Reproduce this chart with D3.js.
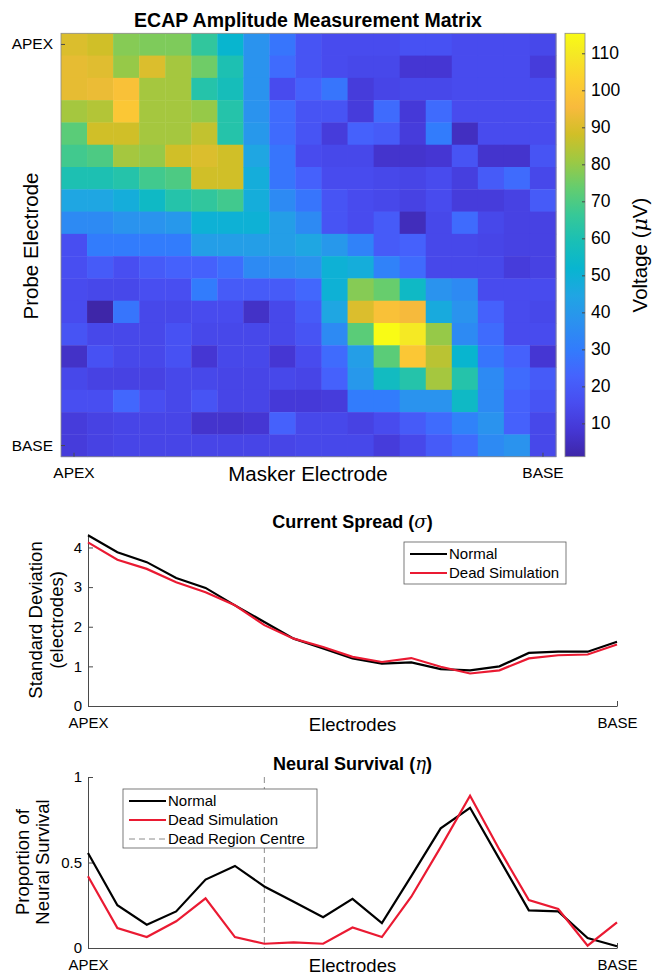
<!DOCTYPE html>
<html lang="en">
<head>
<meta charset="UTF-8">
<title>ECAP Amplitude Measurement Matrix</title>
<style>
  body { margin: 0; background: #fff; }
  svg text { font-family: "Liberation Sans", Arial, Helvetica, sans-serif; }
</style>
</head>
<body>
<script src="https://d3js.org/d3.v7.min.js"></script>
<script>
// electrodes, apex (1) to base (19)
var electrodes = [1, 2, 3, 4, 5, 6, 7, 8, 9, 10, 11, 12, 13, 14, 15, 16, 17, 18, 19];
var endLabels = {1: "APEX", 19: "BASE"};

// ECAP amplitude (uV), rows = probe electrode, columns = masker electrode
var ecap = [
  [90, 88, 78, 77, 77, 65, 52, 38, 28, 18, 15, 15, 15, 17, 17, 15, 15, 15, 14],
  [92, 91, 80, 90, 82, 75, 60, 38, 25, 18, 15, 14, 14, 8, 8, 15, 15, 15, 10],
  [92, 93, 98, 82, 82, 62, 58, 38, 15, 22, 28, 10, 13, 14, 14, 15, 15, 15, 15],
  [82, 84, 100, 82, 82, 80, 62, 38, 25, 18, 18, 10, 25, 9, 25, 15, 15, 15, 15],
  [72, 88, 88, 82, 82, 86, 62, 40, 25, 18, 10, 22, 20, 10, 30, 5, 15, 15, 15],
  [68, 70, 82, 80, 88, 90, 88, 45, 28, 15, 14, 14, 7, 7, 8, 18, 7, 7, 18],
  [60, 60, 62, 68, 70, 88, 88, 48, 28, 22, 15, 15, 14, 13, 15, 11, 20, 25, 14],
  [45, 45, 48, 55, 62, 65, 68, 48, 35, 28, 18, 15, 14, 12, 15, 10, 10, 12, 20],
  [35, 35, 38, 38, 40, 50, 50, 50, 42, 35, 18, 15, 20, 4, 14, 25, 14, 12, 12],
  [16, 30, 30, 30, 30, 42, 42, 42, 42, 45, 40, 32, 20, 22, 14, 14, 13, 12, 12],
  [16, 20, 16, 20, 22, 22, 26, 35, 36, 38, 50, 48, 32, 25, 14, 14, 14, 10, 12],
  [15, 14, 14, 16, 16, 30, 20, 20, 20, 24, 50, 78, 74, 55, 38, 35, 15, 15, 15],
  [15, 1, 28, 14, 14, 15, 15, 6, 14, 20, 45, 90, 98, 95, 47, 38, 22, 15, 14],
  [18, 14, 14, 14, 17, 14, 14, 14, 14, 18, 35, 72, 115.4, 110, 80, 35, 25, 15, 15],
  [6, 17, 14, 14, 17, 8, 14, 14, 8, 15, 25, 42, 72, 100, 85, 52, 28, 22, 8],
  [14, 12, 12, 12, 14, 14, 13, 13, 14, 13, 22, 40, 56, 62, 82, 62, 35, 25, 20],
  [16, 16, 24, 16, 14, 18, 13, 13, 9, 9, 10, 30, 30, 38, 38, 55, 35, 22, 18],
  [10, 12, 13, 13, 13, 7, 7, 8, 22, 14, 14, 12, 15, 20, 25, 32, 38, 22, 14],
  [10, 12, 13, 13, 13, 13, 13, 13, 13, 14, 14, 14, 10, 14, 20, 25, 35, 38, 14]
];
var voltageTicks = [10, 20, 30, 40, 50, 60, 70, 80, 90, 100, 110];

// current spread (sigma, electrodes)
var spreadNormal = [4.31, 3.88, 3.63, 3.23, 2.98, 2.54, 2.12, 1.70, 1.45, 1.20, 1.07, 1.10, 0.93, 0.90, 1.00, 1.34, 1.37, 1.37, 1.62];
var spreadDead   = [4.13, 3.69, 3.46, 3.12, 2.87, 2.54, 2.04, 1.70, 1.49, 1.24, 1.11, 1.21, 0.99, 0.82, 0.90, 1.20, 1.28, 1.30, 1.55];
var spreadTicks = [0, 1, 2, 3, 4];

// neural survival (eta)
var survivalNormal = [0.556, 0.25, 0.136, 0.214, 0.40, 0.48, 0.36, 0.27, 0.18, 0.287, 0.146, 0.42, 0.70, 0.82, 0.52, 0.22, 0.214, 0.058, 0.01];
var survivalDead   = [0.42, 0.117, 0.064, 0.156, 0.29, 0.064, 0.025, 0.033, 0.025, 0.12, 0.064, 0.30, 0.59, 0.89, 0.575, 0.28, 0.228, 0.014, 0.15];
var survivalTicks = [0, 0.5, 1];
var deadCentre = 7;

// parula colour map (every 4th entry of the 64 colour table)
var parulaPos = [0, 4, 8, 12, 16, 20, 24, 28, 32, 36, 40, 44, 48, 52, 56, 60, 63];
var parulaRgb = ["rgb(62,38,168)", "rgb(69,55,213)", "rgb(72,77,240)", "rgb(69,99,253)", "rgb(50,124,252)",
  "rgb(43,145,239)", "rgb(32,165,227)", "rgb(8,181,208)", "rgb(25,191,182)", "rgb(55,200,151)",
  "rgb(100,205,111)", "rgb(157,201,67)", "rgb(209,191,39)", "rgb(248,186,61)", "rgb(252,207,48)",
  "rgb(245,233,36)", "rgb(249,251,21)"];

const W = 652, H = 975;
const axisCol = "#4a4a4a";
const red = "#ea1a32";

const svg = d3.select("body").append("svg")
  .attr("width", W).attr("height", H);

// ---------- heatmap ----------
var flat = [].concat.apply([], ecap);
var vExtent = d3.extent(flat);
var parula = d3.scaleLinear()
  .domain(parulaPos.map(function(p) { return vExtent[0] + p / 63 * (vExtent[1] - vExtent[0]); }))
  .range(parulaRgb)
  .interpolate(d3.interpolateRgb);

var hx = d3.scaleBand().domain(electrodes).range([61, 556]);
var hy = d3.scaleBand().domain(electrodes).range([33.3, 456.7]);

var cells = [];
ecap.forEach(function(row, r) {
  row.forEach(function(v, c) { cells.push({probe: electrodes[r], masker: electrodes[c], v: v}); });
});

svg.append("g").selectAll("rect")
  .data(cells)
  .enter().append("rect")
  .attr("x", function(d) { return hx(d.masker); })
  .attr("y", function(d) { return hy(d.probe); })
  .attr("width", hx.bandwidth() + 0.4)
  .attr("height", hy.bandwidth() + 0.4)
  .attr("fill", function(d) { return parula(d.v); });

svg.append("rect")
  .attr("x", 61).attr("y", 33.3).attr("width", 495).attr("height", 423.4)
  .attr("fill", "none").attr("stroke", "#8a8a8a").attr("stroke-width", 0.8);

function styleAxis(g, size) {
  g.attr("font-family", null).attr("font-size", size);
  g.selectAll("path, line").attr("stroke", axisCol);
  g.selectAll("text").attr("fill", "#000");
}

svg.append("g")
  .attr("transform", "translate(61,0)")
  .call(d3.axisLeft(hy).tickValues([1, 19]).tickFormat(function(d) { return endLabels[d]; })
    .tickSizeInner(-4).tickSizeOuter(0).tickPadding(8))
  .call(styleAxis, 15.5)
  .select(".domain").remove();

svg.append("g")
  .attr("transform", "translate(0,456.7)")
  .call(d3.axisBottom(hx).tickValues([1, 19]).tickFormat(function(d) { return endLabels[d]; })
    .tickSizeInner(-4).tickSizeOuter(0).tickPadding(10.5))
  .call(styleAxis, 15.5)
  .select(".domain").remove();

svg.append("text")
  .attr("x", 308).attr("y", 27)
  .attr("text-anchor", "middle").attr("font-size", 19.5).attr("font-weight", "bold")
  .text("ECAP Amplitude Measurement Matrix");

svg.append("text")
  .attr("x", 308).attr("y", 481)
  .attr("text-anchor", "middle").attr("font-size", 20.5)
  .text("Masker Electrode");

svg.append("text")
  .attr("transform", "translate(38,246) rotate(-90)")
  .attr("text-anchor", "middle").attr("font-size", 20.5)
  .text("Probe Electrode");

// ---------- colorbar ----------
var cb = d3.scaleLinear().domain(vExtent).range([456.7, 33.3]);
var grad = svg.append("defs").append("linearGradient")
  .attr("id", "parula").attr("x1", 0).attr("y1", 1).attr("x2", 0).attr("y2", 0);
grad.selectAll("stop")
  .data(parulaPos)
  .enter().append("stop")
  .attr("offset", function(p) { return p / 63; })
  .attr("stop-color", function(p, i) { return parulaRgb[i]; });

svg.append("rect")
  .attr("x", 565).attr("y", 33.3).attr("width", 20).attr("height", 423.4)
  .attr("fill", "url(#parula)").attr("stroke", "#8a8a8a").attr("stroke-width", 0.8);

svg.append("g")
  .attr("transform", "translate(585,0)")
  .call(d3.axisRight(cb).tickValues(voltageTicks).tickSizeInner(-3).tickSizeOuter(0).tickPadding(6))
  .call(styleAxis, 17.5)
  .select(".domain").remove();

var vl = svg.append("text")
  .attr("transform", "translate(647,255) rotate(-90)")
  .attr("text-anchor", "middle").attr("font-size", 20.5);
vl.append("tspan").text("Voltage (");
vl.append("tspan").attr("font-style", "italic").attr("font-family", "DejaVu Serif, serif").text("\u03bc");
vl.append("tspan").text("V)");

// ---------- line charts ----------
var lx = d3.scaleLinear().domain([1, 19]).range([88, 617]);

function lineChart(opt) {
  var y = d3.scaleLinear().domain(opt.ydom).range(opt.yrange);
  var g = svg.append("g");

  g.append("g")
    .attr("transform", "translate(88,0)")
    .call(d3.axisLeft(y).tickValues(opt.ticks).tickFormat(d3.format("~g"))
      .tickSizeInner(-5).tickSizeOuter(0).tickPadding(6))
    .call(styleAxis, 15);

  g.append("g")
    .attr("transform", "translate(0," + opt.yrange[0] + ")")
    .call(d3.axisBottom(lx).tickValues([1, 19]).tickFormat(function(d) { return endLabels[d]; })
      .tickSizeInner(-5).tickSizeOuter(0).tickPadding(11.3))
    .call(styleAxis, 15);

  if (opt.centre) {
    g.append("line")
      .attr("x1", lx(opt.centre)).attr("x2", lx(opt.centre))
      .attr("y1", y(opt.ydom[1])).attr("y2", y(0))
      .attr("stroke", "#8c8c8c").attr("stroke-width", 1).attr("stroke-dasharray", "6,4");
  }

  var line = d3.line()
    .x(function(d, i) { return lx(electrodes[i]); })
    .y(function(d) { return y(d); });

  g.append("path").datum(opt.normal)
    .attr("d", line).attr("fill", "none").attr("stroke", "#000").attr("stroke-width", 2.2);
  g.append("path").datum(opt.dead)
    .attr("d", line).attr("fill", "none").attr("stroke", red).attr("stroke-width", 2.2);

  var t = g.append("text")
    .attr("x", 352.5).attr("y", opt.titleY)
    .attr("text-anchor", "middle").attr("font-size", 18).attr("font-weight", "bold");
  t.append("tspan").text(opt.title + " (");
  t.append("tspan").attr("font-style", "italic").attr("font-weight", "normal")
    .attr("font-family", "DejaVu Serif, serif").text(opt.symbol);
  t.append("tspan").text(")");

  g.append("text")
    .attr("x", 352.5).attr("y", opt.xlabelY)
    .attr("text-anchor", "middle").attr("font-size", 18.5)
    .text("Electrodes");

  opt.ylabel.forEach(function(s, i) {
    g.append("text")
      .attr("transform", "translate(" + opt.ylabelX[i] + "," + opt.ylabelMid + ") rotate(-90)")
      .attr("text-anchor", "middle").attr("font-size", 18.5)
      .text(s);
  });

  // legend
  var lg = g.append("g").attr("transform", "translate(" + opt.legend[0] + "," + opt.legend[1] + ")");
  lg.append("rect")
    .attr("width", opt.legend[2]).attr("height", opt.legend[3])
    .attr("fill", "#fff").attr("stroke", "#5a5a5a").attr("stroke-width", 0.8);
  opt.items.forEach(function(it, i) {
    var yy = 12 + i * 19;
    lg.append("line")
      .attr("x1", 6).attr("x2", 43).attr("y1", yy).attr("y2", yy)
      .attr("stroke", it.color).attr("stroke-width", it.dash ? 1 : 2.2)
      .attr("stroke-dasharray", it.dash ? "6,4" : null);
    lg.append("text")
      .attr("x", 45).attr("y", yy).attr("dy", "0.35em")
      .attr("font-size", 15).text(it.name);
  });
}

lineChart({
  ydom: [0, 4.34], yrange: [706, 534], ticks: spreadTicks,
  normal: spreadNormal, dead: spreadDead,
  title: "Current Spread", symbol: "\u03c3", titleY: 528, xlabelY: 731,
  ylabel: ["Standard Deviation", "(electrodes)"], ylabelX: [42, 63], ylabelMid: 620,
  legend: [404, 542, 162, 42],
  items: [{name: "Normal", color: "#000"}, {name: "Dead Simulation", color: red}]
});

lineChart({
  ydom: [0, 1], yrange: [948, 777], ticks: survivalTicks,
  normal: survivalNormal, dead: survivalDead, centre: deadCentre,
  title: "Neural Survival", symbol: "\u03b7", titleY: 770, xlabelY: 972,
  ylabel: ["Proportion of", "Neural Survival"], ylabelX: [29, 49], ylabelMid: 862,
  legend: [123, 789, 194, 59],
  items: [{name: "Normal", color: "#000"}, {name: "Dead Simulation", color: red},
          {name: "Dead Region Centre", color: "#8c8c8c", dash: true}]
});
</script>
</body>
</html>
